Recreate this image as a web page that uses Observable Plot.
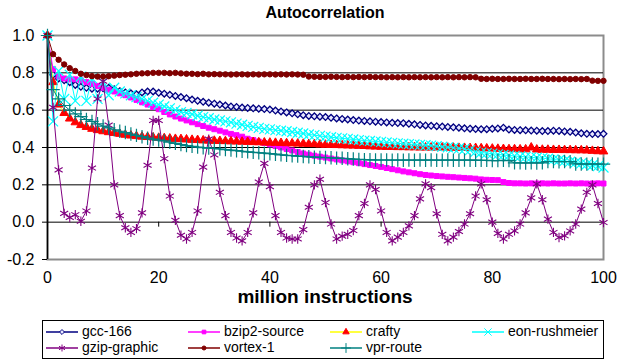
<!DOCTYPE html>
<html><head><meta charset="utf-8">
<script src="https://cdn.jsdelivr.net/npm/d3@7"></script>
<script src="https://cdn.jsdelivr.net/npm/@observablehq/plot@0.6"></script>
<style>
body{margin:0;background:#fff;}
#wrap{position:relative;width:618px;height:362px;font-family:"Liberation Sans",Arial,sans-serif;color:#000;overflow:hidden;}
#chart{position:absolute;left:0;top:0;}
#title{position:absolute;left:47px;width:556px;top:4px;line-height:18px;text-align:center;font-weight:bold;font-size:16px;z-index:2;}
#xlabel{position:absolute;left:47px;width:556px;top:286px;line-height:22px;text-align:center;font-weight:bold;font-size:19px;z-index:2;}
#legend{position:absolute;left:42px;top:320px;width:562px;height:39px;border:1px solid #000;box-sizing:border-box;z-index:2;}
.item{position:absolute;height:15px;display:flex;align-items:center;font-size:14px;line-height:15px;white-space:nowrap;}
.item svg{margin-right:4px;overflow:visible;}
</style></head><body>
<div id="wrap"><div id="chart"></div><div id="title">Autocorrelation</div><div id="xlabel">million instructions</div><div id="legend"></div></div>
<script>
// x categories: lag in million instructions
const lags = Array.from({length: 101}, (_, i) => i);
const xTicks = [0, 20, 40, 60, 80, 100];
const yTicks = [-0.2, 0.0, 0.2, 0.4, 0.6, 0.8, 1.0];
const seriesNames = ["gcc-166", "bzip2-source", "crafty", "eon-rushmeier", "gzip-graphic", "vortex-1", "vpr-route"];

const gcc166 = [1.0,0.79,0.77,0.76,0.75,0.735,0.725,0.72,0.715,0.715,
0.718,0.72,0.712,0.702,0.695,0.69,0.685,0.695,0.70,0.70,
0.693,0.688,0.682,0.676,0.67,0.664,0.657,0.65,0.645,0.64,
0.635,0.63,0.625,0.62,0.617,0.614,0.612,0.61,0.608,0.606,
0.603,0.598,0.593,0.588,0.583,0.578,0.573,0.569,0.567,0.565,
0.563,0.559,0.556,0.553,0.55,0.547,0.544,0.542,0.54,0.538,
0.536,0.534,0.532,0.531,0.53,0.527,0.524,0.521,0.518,0.516,
0.514,0.512,0.51,0.508,0.506,0.503,0.501,0.499,0.498,0.498,
0.50,0.502,0.506,0.496,0.494,0.493,0.492,0.491,0.49,0.488,
0.488,0.49,0.489,0.486,0.484,0.48,0.476,0.473,0.472,0.472,
0.473];
const bzip2Source = [1.0,0.82,0.78,0.77,0.765,0.765,0.76,0.75,0.74,0.73,
0.72,0.71,0.70,0.69,0.68,0.668,0.655,0.642,0.63,0.617,
0.605,0.59,0.577,0.566,0.555,0.545,0.535,0.525,0.515,0.506,
0.498,0.49,0.481,0.473,0.466,0.458,0.447,0.44,0.432,0.424,
0.416,0.408,0.40,0.392,0.384,0.376,0.368,0.362,0.356,0.351,
0.346,0.341,0.336,0.331,0.326,0.321,0.316,0.311,0.306,0.301,
0.296,0.29,0.284,0.278,0.272,0.267,0.262,0.257,0.253,0.25,
0.247,0.245,0.243,0.241,0.239,0.237,0.235,0.233,0.229,0.227,
0.226,0.225,0.215,0.21,0.208,0.208,0.207,0.208,0.207,0.208,
0.207,0.208,0.207,0.207,0.208,0.207,0.208,0.207,0.207,0.208,
0.207];
const crafty = [1.0,0.75,0.63,0.585,0.555,0.535,0.52,0.51,0.50,0.493,
0.487,0.482,0.478,0.473,0.468,0.464,0.461,0.458,0.456,0.454,
0.452,0.45,0.448,0.446,0.445,0.443,0.441,0.44,0.438,0.437,
0.436,0.435,0.434,0.433,0.432,0.431,0.43,0.429,0.428,0.427,
0.426,0.425,0.424,0.423,0.422,0.421,0.42,0.419,0.418,0.416,
0.415,0.414,0.413,0.412,0.411,0.41,0.409,0.408,0.406,0.405,
0.404,0.403,0.403,0.402,0.402,0.401,0.401,0.40,0.40,0.40,
0.40,0.40,0.399,0.399,0.398,0.398,0.397,0.397,0.396,0.395,
0.394,0.393,0.392,0.391,0.391,0.39,0.39,0.40,0.389,0.388,
0.388,0.387,0.387,0.386,0.386,0.385,0.385,0.384,0.382,0.38,
0.379];
const eonRushmeier = [1.0,0.54,0.81,0.66,0.79,0.65,0.78,0.65,0.77,0.66,
0.75,0.68,0.72,0.70,0.69,0.68,0.67,0.66,0.65,0.64,
0.63,0.62,0.61,0.60,0.59,0.585,0.578,0.57,0.563,0.557,
0.55,0.545,0.54,0.535,0.528,0.522,0.516,0.51,0.505,0.50,
0.497,0.493,0.49,0.487,0.483,0.479,0.475,0.47,0.466,0.462,
0.458,0.455,0.452,0.449,0.446,0.443,0.44,0.437,0.435,0.432,
0.43,0.427,0.425,0.422,0.42,0.418,0.416,0.414,0.412,0.41,
0.407,0.404,0.401,0.398,0.395,0.392,0.386,0.378,0.373,0.37,
0.367,0.363,0.36,0.357,0.355,0.352,0.35,0.347,0.345,0.343,
0.34,0.336,0.332,0.328,0.324,0.32,0.315,0.31,0.305,0.30,
0.293];
const gzipGraphic = [1.0,0.615,0.28,0.047,0.025,0.04,0.005,0.06,0.29,0.66,
0.755,0.52,0.2,0.035,-0.03,-0.055,-0.035,0.05,0.305,0.545,
0.545,0.34,0.14,0.01,-0.07,-0.09,-0.055,0.06,0.295,0.445,
0.36,0.16,0.035,-0.055,-0.085,-0.1,-0.055,0.05,0.215,0.315,
0.19,0.035,-0.055,-0.085,-0.09,-0.09,-0.04,0.08,0.2,0.23,
0.105,-0.01,-0.09,-0.075,-0.065,-0.045,0.035,0.1,0.2,0.175,
0.06,-0.055,-0.1,-0.08,-0.055,-0.02,0.035,0.125,0.205,0.185,
0.045,-0.065,-0.1,-0.08,-0.05,-0.01,0.045,0.14,0.205,0.12,
0.0,-0.06,-0.09,-0.065,-0.047,-0.01,0.05,0.13,0.205,0.12,
0.016,-0.055,-0.082,-0.073,-0.047,-0.01,0.07,0.16,0.2,0.1,
-0.002];
const vortex1 = [1.0,0.90,0.87,0.845,0.825,0.81,0.795,0.788,0.782,0.78,
0.78,0.782,0.785,0.788,0.79,0.792,0.795,0.797,0.798,0.80,
0.80,0.80,0.798,0.80,0.797,0.795,0.795,0.793,0.795,0.792,
0.793,0.792,0.792,0.791,0.792,0.792,0.791,0.792,0.791,0.792,
0.792,0.791,0.792,0.791,0.792,0.791,0.79,0.78,0.779,0.778,
0.778,0.779,0.778,0.777,0.778,0.777,0.778,0.777,0.778,0.777,
0.777,0.776,0.777,0.776,0.777,0.776,0.777,0.776,0.777,0.776,
0.777,0.776,0.777,0.776,0.777,0.776,0.777,0.776,0.768,0.767,
0.768,0.767,0.767,0.768,0.767,0.767,0.768,0.767,0.767,0.768,
0.767,0.767,0.766,0.767,0.766,0.767,0.766,0.767,0.758,0.757,
0.757];
const vprRoute = [1.0,0.71,0.66,0.625,0.60,0.58,0.565,0.55,0.54,0.527,
0.515,0.505,0.495,0.487,0.48,0.472,0.465,0.458,0.45,0.445,
0.44,0.435,0.428,0.422,0.416,0.41,0.406,0.402,0.399,0.397,
0.395,0.392,0.389,0.386,0.383,0.38,0.377,0.374,0.372,0.37,
0.367,0.364,0.361,0.358,0.356,0.354,0.352,0.35,0.348,0.347,
0.346,0.345,0.343,0.342,0.34,0.338,0.336,0.335,0.334,0.333,
0.333,0.333,0.332,0.333,0.332,0.333,0.332,0.333,0.332,0.333,
0.332,0.332,0.333,0.332,0.332,0.333,0.332,0.332,0.331,0.331,
0.33,0.33,0.331,0.33,0.318,0.318,0.317,0.318,0.317,0.318,
0.325,0.325,0.324,0.325,0.324,0.312,0.312,0.311,0.312,0.311,
0.311];

const seriesValues = [gcc166, bzip2Source, crafty, eonRushmeier, gzipGraphic, vortex1, vprRoute];

// visual styles per series (Excel classic palette)
const styles = [
  {line: "#000080", symbol: "diamond2", d3sym: d3.symbolDiamond2, r: 3.0, fill: "#e8e8ff", stroke: "#000080", sw: 1.3},
  {line: "#ff00ff", symbol: "square", d3sym: d3.symbolSquare, r: 2.8, fill: "#ff00ff", stroke: "#ff00ff", sw: 1},
  {line: "#ffff00", symbol: "triangle", d3sym: d3.symbolTriangle, r: 3.2, fill: "#ff0000", stroke: "#ff0000", sw: 1},
  {line: "#00ffff", symbol: "times", d3sym: d3.symbolTimes, r: 4.6, fill: "none", stroke: "#00ffff", sw: 1.2},
  {line: "#800080", symbol: "asterisk", d3sym: d3.symbolAsterisk, r: 4.4, fill: "none", stroke: "#800080", sw: 1.1},
  {line: "#800000", symbol: "circle", d3sym: d3.symbolCircle, r: 2.7, fill: "#800000", stroke: "#800000", sw: 1},
  {line: "#008080", symbol: "plus", d3sym: d3.symbolPlus, r: 4.4, fill: "none", stroke: "#008080", sw: 1.2}
];

const seriesMarks = seriesNames.flatMap((name, k) => {
  const rows = seriesValues[k].map((v, i) => ({name, lag: lags[i], value: v}));
  const s = styles[k];
  return [
    Plot.line(rows, {x: "lag", y: "value", stroke: s.line, strokeWidth: 1}),
    Plot.dot(rows, {x: "lag", y: "value", symbol: s.symbol, r: s.r, fill: s.fill, stroke: s.stroke, strokeWidth: s.sw})
  ];
});

const gridVals = yTicks.filter(d => d > -0.2 && d < 1.0 && d !== 0);
const innerXTicks = xTicks.filter(d => d > 0 && d < 100);

const chart = Plot.plot({
  width: 618, height: 362,
  marginLeft: 47, marginRight: 15, marginTop: 35, marginBottom: 103,
  x: {domain: [0, 100]},
  y: {domain: [-0.2, 1.0]},
  style: {fontFamily: "'Liberation Sans', Arial, sans-serif", fontSize: "16px", color: "#000", background: "transparent"},
  marks: [
    Plot.frame({stroke: "#8c8c8c", strokeWidth: 2}),
    Plot.ruleY(gridVals, {stroke: "#000", strokeWidth: 1}),
    Plot.ruleY([0], {stroke: "#000", strokeWidth: 1}),
    Plot.ruleX(innerXTicks, {y1: 0, y2: 0, insetBottom: -5, stroke: "#000"}),
    Plot.ruleX([0], {stroke: "#000", strokeWidth: 1.5}),
    Plot.axisY({ticks: yTicks, tickSize: 5, tickPadding: 8, tickFormat: d => d.toFixed(1), fontSize: 16, label: null}),
    Plot.axisX({ticks: xTicks, tickSize: 0, tickPadding: 12, tickFormat: d => String(d), fontSize: 16, label: null}),
    ...seriesMarks
  ]
});
document.getElementById("chart").appendChild(chart);

// legend
const legend = document.getElementById("legend");
const colX = [3, 145, 287, 429];
const rowY = [3, 19];
seriesNames.forEach((name, k) => {
  const s = styles[k];
  const item = document.createElement("div");
  item.className = "item";
  item.style.left = colX[k % 4] + "px";
  item.style.top = rowY[Math.floor(k / 4)] + "px";
  const svg = d3.create("svg").attr("width", 32).attr("height", 14);
  svg.append("line").attr("x1", 0).attr("x2", 32).attr("y1", 7).attr("y2", 7).attr("stroke", s.line).attr("stroke-width", 1.5);
  svg.append("path").attr("transform", "translate(16,7)")
    .attr("d", d3.symbol(s.d3sym, Math.PI * s.r * s.r * 0.55)())
    .attr("fill", s.fill).attr("stroke", s.stroke).attr("stroke-width", 1);
  item.appendChild(svg.node());
  const t = document.createElement("span");
  t.textContent = name;
  item.appendChild(t);
  legend.appendChild(item);
});
</script>
</body></html>
